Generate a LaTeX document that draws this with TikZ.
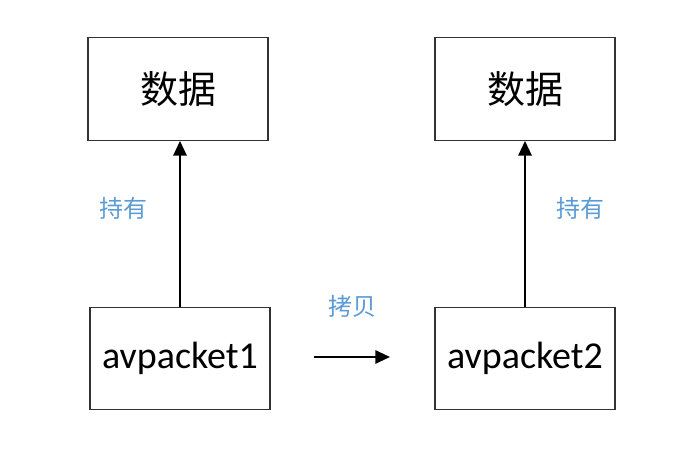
\documentclass[tikz,border=0pt]{standalone}
\usepackage{fontspec}
\setmainfont{Carlito}
\newfontfamily\cjk{Noto Sans CJK SC}
\usetikzlibrary{arrows.meta}
\definecolor{lblblue}{HTML}{5B9BD5}
\tikzset{
    box/.style={draw=black!80, line width=0.9pt, minimum width=135pt, minimum height=77pt, inner sep=0pt, font=\fontsize{28.5}{31}\selectfont},
    arr/.style={line width=1.4pt, -{Triangle[length=11pt, width=10pt]}},
    lbl/.style={text=lblblue, font=\cjk\fontsize{18}{20}\selectfont}
}
\begin{document}
\begin{tikzpicture}[x=0.75pt, y=-0.75pt]
    \useasboundingbox (0,0) rectangle (691,473);
    \node[box] (data1) at (178, 89) {\cjk 数据};
    \node[box] (data2) at (525, 89) {\cjk 数据};
    \node[box] (pkt1) at (180, 358.5) {avpacket1};
    \node[box] (pkt2) at (525, 358.5) {avpacket2};
    \coordinate (cpyA) at (314, 357);
    \coordinate (cpyB) at (390, 357);
    \draw[arr] (pkt1.north) -- (data1.south -| pkt1.north);
    \draw[arr] (pkt2.north) -- (data2.south);
    \draw[arr] (cpyA) -- (cpyB);
    \node[lbl] (hold1) at (123, 208) {持有};
    \node[lbl] (hold2) at (580, 208) {持有};
    \node[lbl] (copy) at (352, 306) {拷贝};
\end{tikzpicture}
\end{document}
